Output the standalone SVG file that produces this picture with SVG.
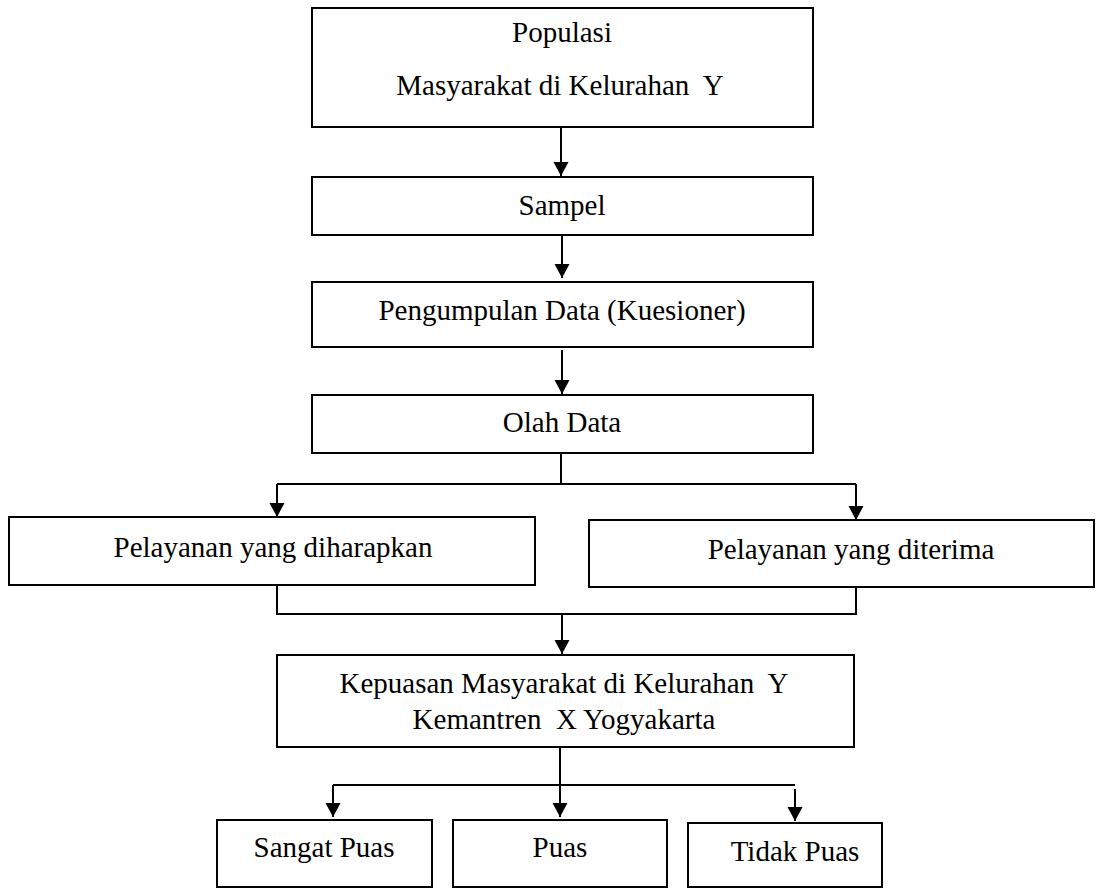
<svg xmlns="http://www.w3.org/2000/svg" width="1098" height="888" viewBox="0 0 1098 888">
<style>
.box{fill:#fff;stroke:#000;stroke-width:2}
.t{font-family:'Liberation Serif',Tinos,'Times New Roman','DejaVu Serif',serif;font-size:29px;fill:#000;text-anchor:middle}
.c{fill:none;stroke:#000;stroke-width:2}
</style>
<defs>
<marker id="ah" markerUnits="userSpaceOnUse" markerWidth="16" markerHeight="16" refX="14" refY="7.5" orient="auto">
<path d="M0,0 L14,7.5 L0,15 z" fill="#000"/>
</marker>
</defs>
<rect width="1098" height="888" fill="#fff"/>
<g id="connectors">
<line class="c" x1="561" y1="128" x2="561" y2="176" marker-end="url(#ah)"/>
<line class="c" x1="562" y1="236" x2="562" y2="278" marker-end="url(#ah)"/>
<line class="c" x1="562" y1="350" x2="562" y2="394" marker-end="url(#ah)"/>
<polyline class="c" points="561,454 561,484"/>
<line class="c" x1="277" y1="484" x2="856" y2="484"/>
<line class="c" x1="277" y1="484" x2="277" y2="517" marker-end="url(#ah)"/>
<line class="c" x1="856" y1="484" x2="856" y2="520" marker-end="url(#ah)"/>
<polyline class="c" points="277,586 277,614 856,614 856,588"/>
<line class="c" x1="562" y1="614" x2="562" y2="654" marker-end="url(#ah)"/>
<line class="c" x1="560" y1="748" x2="560" y2="817" marker-end="url(#ah)"/>
<line class="c" x1="333" y1="785" x2="795" y2="785"/>
<line class="c" x1="333" y1="785" x2="333" y2="817" marker-end="url(#ah)"/>
<line class="c" x1="795" y1="789" x2="795" y2="821" marker-end="url(#ah)"/>
</g>
<g id="populasi">
<rect class="box" x="312" y="8" width="501" height="119"/>
<text class="t" font-family="Liberation Serif, serif" x="562" y="42">Populasi</text>
<text class="t" font-family="Liberation Serif, serif" x="560" y="95" xml:space="preserve">Masyarakat di Kelurahan  Y</text>
</g>
<g id="sampel">
<rect class="box" x="312" y="177" width="501" height="58"/>
<text class="t" x="562" y="215">Sampel</text>
</g>
<g id="pengumpulan">
<rect class="box" x="312" y="282" width="501" height="65"/>
<text class="t" x="562" y="320">Pengumpulan Data (Kuesioner)</text>
</g>
<g id="olah">
<rect class="box" x="312" y="395" width="501" height="58"/>
<text class="t" x="562" y="432">Olah Data</text>
</g>
<g id="diharapkan">
<rect class="box" x="9" y="517" width="526" height="68"/>
<text class="t" x="273" y="557">Pelayanan yang diharapkan</text>
</g>
<g id="diterima">
<rect class="box" x="589" y="520" width="505" height="67"/>
<text class="t" x="851" y="559">Pelayanan yang diterima</text>
</g>
<g id="kepuasan">
<rect class="box" x="277" y="655" width="577" height="92"/>
<text class="t" x="564" y="693" xml:space="preserve">Kepuasan Masyarakat di Kelurahan  Y</text>
<text class="t" x="564" y="729" xml:space="preserve">Kemantren  X Yogyakarta</text>
</g>
<g id="sangat-puas">
<rect class="box" x="217" y="820" width="215" height="67"/>
<text class="t" x="324" y="857">Sangat Puas</text>
</g>
<g id="puas">
<rect class="box" x="453" y="820" width="214" height="67"/>
<text class="t" x="560" y="857">Puas</text>
</g>
<g id="tidak-puas">
<rect class="box" x="688" y="823" width="194" height="64"/>
<text class="t" x="795" y="861">Tidak Puas</text>
</g>
</svg>
